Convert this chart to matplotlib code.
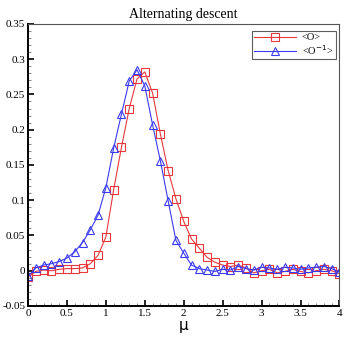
import matplotlib
matplotlib.use('Agg')
import matplotlib.pyplot as plt
import numpy as np
from matplotlib.ticker import MultipleLocator, FuncFormatter

# μ values (step 0.1)
mu = np.round(np.arange(0, 4.01, 0.1), 1)

# <O>
o_mean = [-0.009, -0.001, 0.001, 0.000, 0.002, 0.003, 0.003, 0.004, 0.010, 0.022,
          0.048, 0.115, 0.175, 0.230, 0.272, 0.282, 0.252, 0.194, 0.142, 0.102,
          0.070, 0.045, 0.032, 0.019, 0.012, 0.008, 0.006, 0.008, 0.004, -0.003,
          0.000, 0.002, -0.003, -0.001, 0.002, -0.001, -0.003, 0.000, 0.002, 0.000,
          -0.004]

# <O^-1>
o_inv = [-0.008, 0.004, 0.008, 0.010, 0.013, 0.018, 0.027, 0.040, 0.058, 0.079,
         0.118, 0.174, 0.222, 0.269, 0.285, 0.262, 0.207, 0.156, 0.099, 0.043,
         0.025, 0.008, 0.003, 0.001, -0.001, 0.002, 0.001, 0.006, 0.003, 0.001,
         0.005, 0.004, 0.002, 0.005, 0.004, 0.002, 0.004, 0.005, 0.006, 0.003,
         -0.002]

serif = 'Liberation Serif'

fig = plt.figure(figsize=(3.46, 3.37), dpi=100)
ax = fig.add_axes([0.081, 0.092, 0.900, 0.837])

ax.plot(mu, o_mean, color='#e8383c', lw=0.8, marker='s', ms=5.8,
        mfc='none', mec='#e8383c', mew=0.8, label='<O>')
ax.plot(mu, o_inv, color='#3a3af0', lw=0.8, marker='^', ms=6.2,
        mfc='none', mec='#3a3af0', mew=0.8, label='<O$^{-1}$>')

ax.set_xlim(0, 4)
ax.set_ylim(-0.05, 0.35)
ax.xaxis.set_major_locator(MultipleLocator(0.5))
ax.xaxis.set_minor_locator(MultipleLocator(0.1))
ax.yaxis.set_major_locator(MultipleLocator(0.05))
ax.yaxis.set_minor_locator(MultipleLocator(0.01))
fmt = FuncFormatter(lambda v, p: '%g' % round(v, 3))
ax.xaxis.set_major_formatter(fmt)
ax.yaxis.set_major_formatter(fmt)

ax.tick_params(which='both', direction='in', top=False, right=False,
               labelsize=8, pad=2)
ax.tick_params(which='major', length=4.5, width=1.2)
ax.tick_params(which='minor', length=2.5, width=0.7, color='#888888')
for lab in ax.get_xticklabels() + ax.get_yticklabels():
    lab.set_fontfamily(serif)

ax.spines['left'].set_linewidth(1.4)
ax.spines['bottom'].set_linewidth(1.4)
ax.spines['top'].set_linewidth(0.8)
ax.spines['right'].set_linewidth(0.8)
ax.spines['top'].set_color('#555555')
ax.spines['right'].set_color('#555555')

ax.set_title('Alternating descent', fontfamily=serif, fontsize=10, pad=4)
ax.set_xlabel('μ', fontsize=11, labelpad=0.5)

leg = ax.legend(loc='upper right', bbox_to_anchor=(0.995, 0.983),
                prop={'family': serif, 'size': 7.5}, frameon=True, fancybox=False,
                edgecolor='#333333', borderpad=0.2, handlelength=4.0,
                handletextpad=0.6, labelspacing=0.05, borderaxespad=0.2,
                markerfirst=True)
leg.get_frame().set_linewidth(0.8)

fig.savefig('out.png', dpi=100)
